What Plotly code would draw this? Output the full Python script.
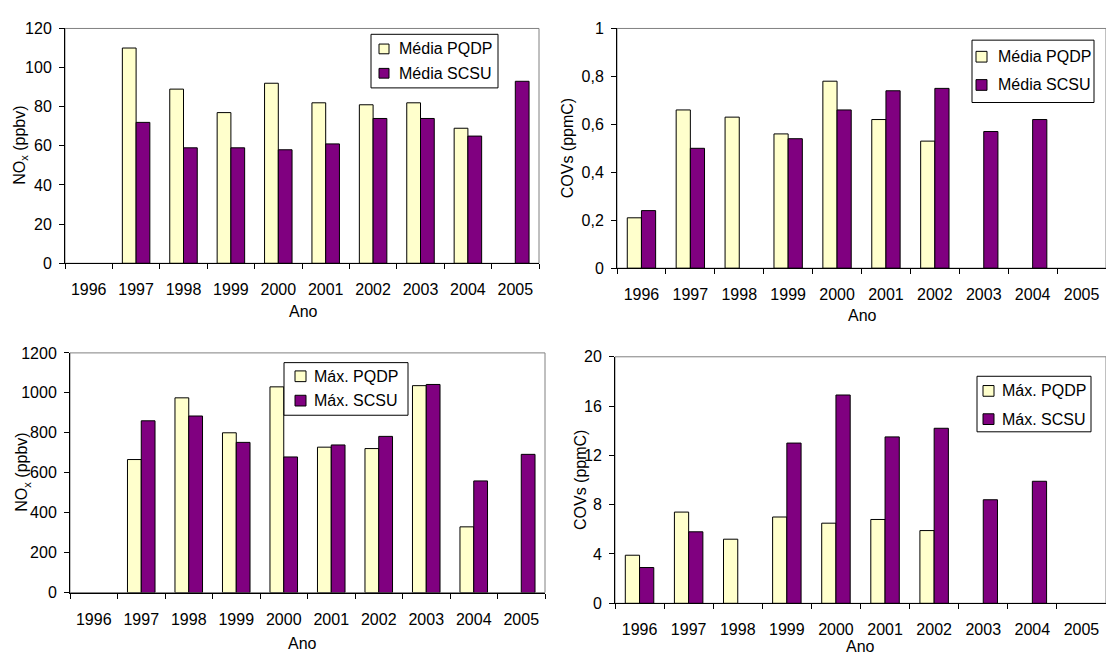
import plotly.graph_objects as go

# Years on the category axis
years = ["1996", "1997", "1998", "1999", "2000", "2001", "2002", "2003", "2004", "2005"]

# Annual means
nox_media_pqdp = [None, 110, 89, 77, 92, 82, 81, 82, 69, None]
nox_media_scsu = [None, 72, 59, 59, 58, 61, 74, 74, 65, 93]
cov_media_pqdp = [0.21, 0.66, 0.63, 0.56, 0.78, 0.62, 0.53, None, None, None]
cov_media_scsu = [0.24, 0.50, None, 0.54, 0.66, 0.74, 0.75, 0.57, 0.62, None]

# Annual maxima
nox_max_pqdp = [None, 666, 975, 800, 1030, 728, 721, 1036, 329, None]
nox_max_scsu = [None, 860, 884, 752, 679, 739, 782, 1042, 559, 692]
cov_max_pqdp = [3.9, 7.4, 5.2, 7.0, 6.5, 6.8, 5.9, None, None, None]
cov_max_scsu = [2.9, 5.8, None, 13.0, 16.9, 13.5, 14.2, 8.4, 9.9, None]

# Series names
names_media = ["Média PQDP", "Média SCSU"]
names_max = ["Máx. PQDP", "Máx. SCSU"]

# Y tick values / labels (comma decimal separator)
nox_media_ticks = [0, 20, 40, 60, 80, 100, 120]
nox_media_ticktext = ["0", "20", "40", "60", "80", "100", "120"]
cov_media_ticks = [0, 0.2, 0.4, 0.6, 0.8, 1.0]
cov_media_ticktext = ["0", "0,2", "0,4", "0,6", "0,8", "1"]
nox_max_ticks = [0, 200, 400, 600, 800, 1000, 1200]
nox_max_ticktext = ["0", "200", "400", "600", "800", "1000", "1200"]
cov_max_ticks = [0, 4, 8, 12, 16, 20]
cov_max_ticktext = ["0", "4", "8", "12", "16", "20"]

ylabel_nox = "NO<sub>x</sub> (ppbv)"
ylabel_cov = "COVs (ppmC)"
xlabel = "Ano"

COL_PQDP = "#FFFFCC"
COL_SCSU = "#800080"
FONT = "Liberation Sans, Arial, sans-serif"
W, H = 1106, 661

def fx(v):
    return v / W

def fy(v):
    return 1 - v / H

# panel geometry (pixels): x-left, x-right, y-top, y-bottom
panels = [
    dict(x=(65, 539), y=(21, 262)),
    dict(x=(617, 1106), y=(21, 267)),
    dict(x=(70, 545), y=(354, 600)),
    dict(x=(615, 1106), y=(358, 611)),
]

series = [
    (nox_media_pqdp, nox_media_scsu, names_media, nox_media_ticks, nox_media_ticktext, 120, ylabel_nox),
    (cov_media_pqdp, cov_media_scsu, names_media, cov_media_ticks, cov_media_ticktext, 1.0, ylabel_cov),
    (nox_max_pqdp, nox_max_scsu, names_max, nox_max_ticks, nox_max_ticktext, 1200, ylabel_nox),
    (cov_max_pqdp, cov_max_scsu, names_max, cov_max_ticks, cov_max_ticktext, 20, ylabel_cov),
]

# legend boxes (pixels): box (l, t, r, b), swatch left, swatch size, row centres, text left
legends = [
    dict(box=(371, 27, 498, 82), sw=379, ss=10, rows=(42, 67), tx=397),
    dict(box=(972, 33, 1094, 97), sw=976, ss=11, rows=(50, 79), tx=996),
    dict(box=(284, 364, 408, 418), sw=295, ss=11, rows=(378, 403), tx=312),
    dict(box=(977, 378, 1091, 435), sw=983, ss=11, rows=(393, 422), tx=1000),
]
# y-title x position and x-title position (pixels)
ytitle_x = [21, 567, 23, 580]
xtitle_pos = [(303, 311), (862, 316), (302, 652), (860, 655)]

fig = go.Figure()
layout = dict(
    width=W, height=H,
    margin=dict(l=0, r=0, t=0, b=0),
    paper_bgcolor="white", plot_bgcolor="white",
    font=dict(family=FONT, size=16, color="black"),
    barmode="group", bargap=0.42, bargroupgap=0,
    showlegend=False,
    shapes=[], annotations=[],
)

for i, (p, s) in enumerate(zip(panels, series)):
    k = "" if i == 0 else str(i + 1)
    pq, sc, nm, tv, tt, ymax, ylab = s
    colors = (COL_PQDP, COL_SCSU)
    for vals, name, col in zip((pq, sc), nm, colors):
        fig.add_trace(go.Bar(
            x=years, y=vals, name=name,
            marker=dict(color=col, line=dict(color="#000000", width=1)),
            xaxis="x" + k, yaxis="y" + k,
        ))
    layout["xaxis" + k] = dict(
        domain=[fx(p["x"][0]), fx(p["x"][1])], anchor="y" + k, type="category",
        showline=True, linecolor="black", linewidth=1,
        ticks="outside", ticklen=5, tickcolor="black", tickson="boundaries",
        showgrid=False, zeroline=False, ticklabelstandoff=12,
        tickfont=dict(size=16),
    )
    layout["yaxis" + k] = dict(
        domain=[fy(p["y"][1]), fy(p["y"][0])], anchor="x" + k, range=[0, ymax],
        tickvals=tv, ticktext=tt,
        showline=True, linecolor="black", linewidth=1,
        ticks="outside", ticklen=5, tickcolor="black",
        showgrid=False, zeroline=False, ticklabelstandoff=4,
        tickfont=dict(size=16),
    )
    # plot-area frame
    layout["shapes"].append(dict(
        type="rect", xref="x" + k + " domain", yref="y" + k + " domain",
        x0=0, x1=1, y0=0, y1=1, line=dict(color="#808080", width=1), layer="below",
    ))
    # legend box with swatches and labels
    lg = legends[i]
    l, t, r, b = lg["box"]
    layout["shapes"].append(dict(
        type="rect", xref="paper", yref="paper",
        x0=fx(l), x1=fx(r), y0=fy(b), y1=fy(t),
        line=dict(color="black", width=1), fillcolor="white", layer="above",
    ))
    for cy, name, col in zip(lg["rows"], nm, colors):
        half = lg["ss"] / 2
        layout["shapes"].append(dict(
            type="rect", xref="paper", yref="paper",
            x0=fx(lg["sw"]), x1=fx(lg["sw"] + lg["ss"]),
            y0=fy(cy + half), y1=fy(cy - half),
            line=dict(color="black", width=1), fillcolor=col, layer="above",
        ))
        layout["annotations"].append(dict(
            text=name, xref="paper", yref="paper",
            x=fx(lg["tx"]), y=fy(cy), showarrow=False,
            xanchor="left", yanchor="middle", font=dict(size=16),
        ))
    # axis titles
    cyc = (p["y"][0] + p["y"][1]) / 2
    layout["annotations"].append(dict(
        text=ylab, textangle=-90, xref="paper", yref="paper",
        x=fx(ytitle_x[i]), y=fy(cyc), showarrow=False,
        xanchor="center", yanchor="middle", font=dict(size=16),
    ))
    tx, ty = xtitle_pos[i]
    layout["annotations"].append(dict(
        text=xlabel, xref="paper", yref="paper",
        x=fx(tx), y=fy(ty), showarrow=False,
        xanchor="center", yanchor="middle", font=dict(size=16),
    ))

fig.update_layout(**layout)
fig.write_html("out.html")
